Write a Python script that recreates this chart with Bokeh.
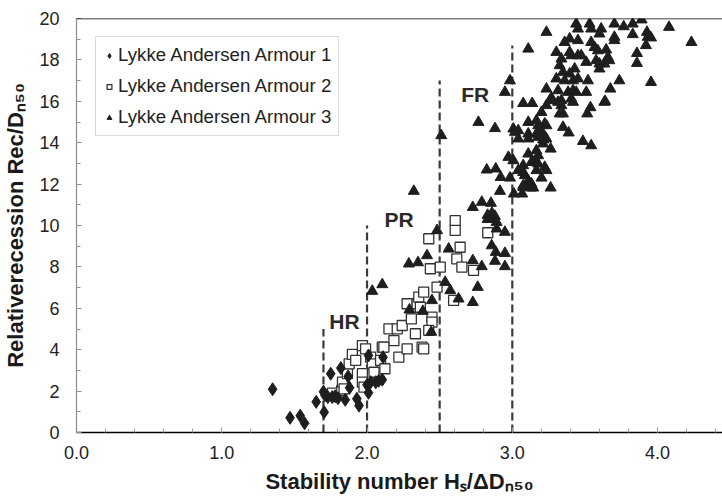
from bokeh.plotting import figure
from bokeh.models import FixedTicker, Span, Legend, LegendItem, PrintfTickFormatter
from bokeh.core.properties import value
from bokeh.embed import file_html
from bokeh.resources import INLINE

# ---------------- data ----------------
armour1_x = [1.35, 1.47, 1.54, 1.57, 1.705, 1.65, 1.70, 1.73, 1.76, 1.80, 1.85, 1.75, 1.82, 1.87,
             1.88, 1.93, 1.945, 2.01, 2.01, 2.025, 2.06, 2.105, 2.11, 1.71, 1.78, 2.00, 2.08]
armour1_y = [2.09, 0.71, 0.81, 0.45, 0.98, 1.48, 1.97, 1.71, 1.71, 1.66, 1.58, 2.84, 3.11, 2.71,
             2.16, 1.63, 1.30, 1.92, 3.72, 2.43, 2.43, 2.55, 3.64, 1.80, 1.75, 2.30, 2.50]

armour2_x = [1.762, 1.826, 1.831, 1.865, 1.877, 1.899, 1.968, 1.968, 1.968, 2.025, 2.036, 2.048,
             2.105, 2.093, 2.123, 2.151, 2.185, 2.208, 2.219, 2.242, 2.276, 2.333, 2.276, 2.305,
             2.345, 2.356, 2.390, 2.367, 2.379, 2.390, 2.447, 2.447, 2.425, 2.425, 2.436, 2.504,
             2.482, 2.607, 2.607, 2.596, 2.618, 2.641, 2.653, 2.733, 2.831, 1.990, 1.922, 1.842,
             1.979, 2.116]
armour2_y = [1.90, 2.03, 2.43, 2.84, 3.32, 3.77, 4.20, 2.84, 2.43, 3.64, 3.32, 2.91,
             4.12, 3.48, 3.08, 5.01, 4.44, 5.01, 3.64, 5.17, 4.04, 4.77, 6.22, 5.49,
             6.22, 6.54, 6.78, 6.05, 4.12, 4.04, 5.57, 5.33, 4.93, 9.36, 7.91, 7.99,
             7.02, 10.24, 9.76, 6.38, 8.39, 8.95, 7.99, 7.83, 9.65, 4.04, 3.48, 2.11,
             2.19, 4.12]

armour3_x = [2.036, 2.105, 2.288, 2.351, 2.413, 2.482, 2.292, 2.384, 2.447, 2.442, 2.538, 2.573,
             2.630, 2.562, 2.322, 2.511, 2.767, 2.881,
             2.728, 2.790, 2.853, 2.83, 2.86, 2.88, 2.83, 2.87, 2.892, 2.892, 2.949, 2.858,
             2.886, 2.949, 2.881, 2.949, 2.728, 2.790, 2.762, 2.728, 2.915, 3.011, 3.068, 3.075,
             3.110, 3.132,
             3.075, 3.137, 3.235, 3.258, 3.315, 3.338, 3.326, 3.349, 3.418, 3.516, 3.538, 3.634,
             3.201, 3.110, 3.166, 3.178, 3.223, 3.235, 3.007, 3.041, 3.018, 3.110, 3.166,
             3.189, 3.212, 3.041, 3.110, 3.178, 3.212, 3.235, 3.212, 3.349, 3.388, 3.486, 3.543,
             3.264, 3.110, 3.166, 3.178, 2.973, 3.007, 3.132, 3.155, 3.178, 3.075, 3.041, 3.075,
             3.223, 3.235, 3.166, 2.824, 2.886, 2.920, 2.984, 3.086, 3.110, 3.132, 3.144, 3.075,
             3.127, 3.201, 3.264,
             3.235, 3.110, 3.440, 3.452, 3.532, 3.543, 3.612, 3.600, 3.360, 3.395, 3.452, 3.543,
             3.566, 3.589, 3.646, 3.303, 3.395, 3.406, 3.452, 3.475, 3.338, 3.509, 3.577, 3.600,
             3.634, 3.326, 3.429, 3.349, 3.303, 3.360, 3.418, 3.452, 3.521, 3.600, 3.395, 2.984,
             2.949, 3.235, 3.315, 3.384, 3.418, 3.440, 3.509, 3.269, 3.338, 3.406,
             3.703, 3.767, 3.829, 3.890, 4.079, 3.703, 3.703, 3.829, 3.927, 3.932, 3.955, 3.920,
             4.233, 3.658, 3.668, 3.858, 3.858, 3.737, 3.955, 3.675, 3.639]
armour3_y = [6.83, 7.15, 8.15, 8.21, 8.55, 9.76, 5.93, 5.86, 6.38, 4.85, 7.26, 6.86,
             6.46, 8.87, 11.66, 14.35, 14.99, 14.69,
             10.88, 11.13, 11.08, 10.5, 10.6, 10.45, 10.3, 10.3, 10.16, 9.84, 9.68, 9.03,
             8.71, 8.66, 8.28, 8.02, 8.31, 8.02, 7.02, 6.29, 11.66, 11.53, 11.53, 11.93,
             12.09, 11.88,
             15.9, 15.9, 15.8, 16.04, 15.96, 15.8, 15.4, 15.4, 15.96, 15.4, 15.7, 15.96,
             15.47, 14.99, 15.07, 14.83, 14.91, 14.83, 14.67, 14.59, 14.51, 14.43, 14.43,
             14.51, 14.43, 14.19, 14.19, 14.27, 14.14, 14.19, 13.95, 14.75, 14.48, 14.07, 13.86,
             13.70, 13.46, 13.62, 13.38, 13.30, 13.14, 13.06, 13.06, 12.98, 12.90, 12.66, 12.57,
             12.82, 12.66, 12.66, 12.69, 12.74, 12.33, 12.30, 12.42, 12.17, 12.01, 11.82, 11.85,
             11.82, 12.30, 11.82,
             19.34, 18.53, 19.74, 19.50, 19.74, 19.50, 19.50, 19.26, 18.85, 19.02, 18.94, 18.85,
             18.61, 18.45, 18.49, 18.37, 18.37, 18.21, 18.21, 18.21, 18.05, 17.89, 17.97, 17.81,
             17.81, 17.73, 17.57, 17.41, 17.09, 17.0, 17.0, 17.09, 17.0, 17.57, 17.33, 17.0,
             16.44, 16.60, 16.52, 16.44, 16.52, 16.44, 16.44, 16.17, 16.04, 16.12,
             19.74, 19.61, 19.74, 19.94, 19.58, 19.10, 18.94, 19.23, 19.34, 19.10, 19.07, 18.70,
             18.85, 18.13, 17.97, 18.32, 17.84, 17.0, 16.92, 16.60, 16.0]

boundary_x = [1.7, 2.0, 2.5, 3.0]
boundary_top = [5.0, 10.0, 17.0, 18.7]

region_labels = ["HR", "PR", "FR"]
region_x = [1.845, 2.22, 2.745]
region_y = [5.35, 10.3, 16.35]

x_ticks = [0, 1, 2, 3, 4]
y_ticks = [0, 2, 4, 6, 8, 10, 12, 14, 16, 18, 20]

FONT = "Liberation Sans"
INK = "#1e1e1e"

p = figure(width=722, height=498, x_range=(0, 4.447), y_range=(0, 20),
           output_backend="svg", toolbar_location=None,
           min_border_left=73, min_border_right=0, min_border_top=18, min_border_bottom=66)
p.grid.visible = False
p.outline_line_color = None
p.background_fill_color = "white"

# axes
p.xaxis.ticker = FixedTicker(ticks=x_ticks, minor_ticks=[round(i * 0.2, 1) for i in range(23)])
p.xaxis.formatter = PrintfTickFormatter(format="%.1f")
p.yaxis.ticker = FixedTicker(ticks=y_ticks, minor_ticks=list(range(21)))
for ax in (p.xaxis[0], p.yaxis[0]):
    ax.major_tick_in = 5
    ax.major_tick_out = 0
    ax.minor_tick_in = 4
    ax.minor_tick_out = 0
    ax.major_label_text_font = FONT
    ax.major_label_text_font_size = "18px"
    ax.major_label_text_color = "#222222"
    ax.axis_label_text_font = FONT
    ax.axis_label_text_font_style = "bold"
    ax.axis_label_text_font_size = "22px"
    ax.axis_label_text_color = "#1a1a1a"
p.xaxis.axis_line_color = "black"
p.xaxis.axis_line_width = 1.5
p.xaxis.major_tick_line_color = "#999999"
p.xaxis.minor_tick_line_color = "#999999"
p.yaxis.axis_line_color = "#8c8c8c"
p.yaxis.axis_line_width = 1.2
p.yaxis.major_tick_line_color = "#8c8c8c"
p.yaxis.minor_tick_line_color = "#8c8c8c"
p.xaxis.major_label_standoff = 13
p.yaxis.major_label_standoff = 17
p.xaxis.axis_label = "Stability number H\u209b/\u0394D\u2099\u2085\u2080"
p.yaxis.axis_label = "Relativerecession Rec/D\u2099\u2085\u2080"
p.xaxis.axis_label_standoff = 7
p.yaxis.axis_label_standoff = 8

p.add_layout(Span(location=20, dimension="width", line_color="black", line_width=1.5))

# boundary dashed lines
p.segment(x0=boundary_x, y0=[0] * len(boundary_x), x1=boundary_x, y1=boundary_top,
          line_color="#3a3a3a", line_width=2.2, line_dash="8 4")

# data
r2 = p.scatter(armour2_x, armour2_y, marker="square", size=10, fill_color="white",
               line_color="#333333", line_width=1.3)
r1 = p.scatter(armour1_x, armour1_y, marker="diamond", size=13, fill_color=INK, line_color=INK)
r3 = p.scatter(armour3_x, armour3_y, marker="triangle", size=11, fill_color=INK, line_color=INK)

p.text(x=region_x, y=region_y, text=region_labels, text_font=value(FONT),
       text_font_style="bold", text_font_size="21px", text_color="#2a2a2a",
       text_align="center", text_baseline="middle")

legend = Legend(items=[LegendItem(label="Lykke Andersen Armour 1", renderers=[r1]),
                       LegendItem(label="Lykke Andersen Armour 2", renderers=[r2]),
                       LegendItem(label="Lykke Andersen Armour 3", renderers=[r3])],
                location=(19, 296))
legend.label_text_font = FONT
legend.label_text_font_size = "18.7px"
legend.label_text_color = "#222222"
legend.label_height = 21
legend.glyph_height = 21
legend.glyph_width = 12
legend.spacing = 9
legend.padding = 7
legend.margin = 0
legend.label_standoff = 3
legend.border_line_color = "#b5b5b5"
legend.border_line_width = 1.5
legend.background_fill_color = "white"
legend.background_fill_alpha = 1.0
p.add_layout(legend)

open("out.html", "w").write(file_html(p, INLINE))
